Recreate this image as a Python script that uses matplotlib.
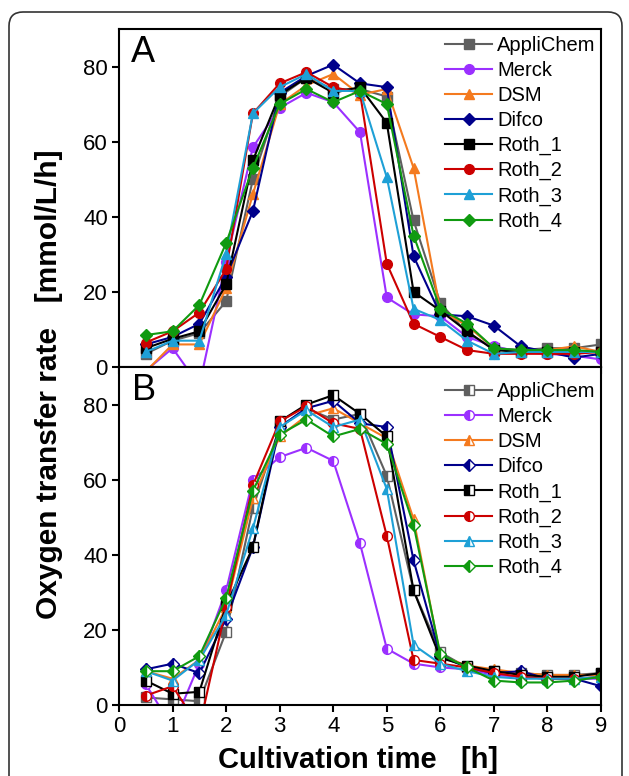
import matplotlib
matplotlib.use('Agg')
import matplotlib.pyplot as plt
from matplotlib.patches import FancyBboxPatch

plt.rcParams['font.family'] = ['Liberation Sans', 'DejaVu Sans']

# tiempo de cultivo [h]
tiempo = [0.5, 1, 1.5, 2, 2.5, 3, 3.5, 4, 4.5, 5, 5.5, 6, 6.5, 7, 7.5, 8, 8.5, 9]

nombres = ['AppliChem', 'Merck', 'DSM', 'Difco', 'Roth_1', 'Roth_2', 'Roth_3', 'Roth_4']
colores = ['#5f5f5f', '#9b30ff', '#f47a1f', '#00008b', '#000000', '#cc0000', '#1ea0d6', '#109a10']
marcadores = ['s', 'o', '^', 'D', 's', 'o', '^', 'D']

# panel A
a_applichem = [3.5, 7, 9, 17.5, 50, 72, 77, 74, 74, 72, 39, 17, 9, 5, 4.5, 5, 5, 6]
a_merck = [-1, 5, -5, 28, 58.5, 69, 73, 70.5, 62.5, 18.5, 14, 13.5, 8, 5.5, 4, 3.5, 3, 2]
a_dsm = [-1.2, 6, 6, 21, 46, 70, 75, 78, 72.5, 74, 53, 15, 11, 5, 4, 4.5, 5.5, 4]
a_difco = [6, 8, 11.5, 24, 41.5, 73, 77.5, 80.5, 75.5, 74.5, 29.5, 14, 13.5, 11, 5.5, 4, 2.5, 3.5]
a_roth1 = [5, 7.5, 9.5, 22, 55, 72.5, 77, 73, 74.5, 65, 20, 15, 9.5, 4.5, 4, 4, 4, 4]
a_roth2 = [6.5, 9.5, 14.5, 26, 67.5, 75.5, 78.5, 74.5, 73, 27.5, 11.5, 8, 4.5, 3.5, 3.5, 3.5, 3.5, 4]
a_roth3 = [4, 7, 7, 30, 67.5, 74.5, 78, 73.5, 73.5, 50.5, 15.5, 12.5, 7, 3.5, 4, 4, 4, 4]
a_roth4 = [8.5, 9.5, 16.5, 33, 53, 70, 74, 70.5, 73.5, 70, 35, 15.5, 11.5, 5, 4.5, 4.5, 4.5, 4]

# panel B
b_applichem = [2, 1.5, 1, 19.5, 52.5, 74, 79, 76, 77.5, 61, 30.5, 14, 10, 9, 8.5, 8, 8, 8.5]
b_merck = [5.5, -6, 11, 30.5, 60, 66, 68.5, 65, 43, 15, 11, 10, 9.5, 8, 7.5, 7, 7, 7]
b_dsm = [9, 7, 12, 26, 55, 71.5, 77, 79, 75, 71, 49.5, 13, 10.5, 9.5, 8.5, 8, 8, 8]
b_difco = [9.5, 11, 8.5, 23, 42, 74, 79, 81, 75, 74, 38.5, 13, 10, 8.5, 9, 7, 7, 5]
b_roth1 = [6.5, 3, 3.5, 26.5, 42, 75.5, 80, 82.5, 77.5, 71.5, 30.5, 12.5, 10.5, 9, 8, 7.5, 7.5, 8.5]
b_roth2 = [2.5, 5, -6, 26, 58.5, 75.5, 79.5, 75, 73.5, 45, 12, 11, 10, 8.5, 7.5, 7, 7, 7.5]
b_roth3 = [9, 6.5, 12, 24, 47, 74, 78.5, 74, 76, 57.5, 16, 11, 9, 7.5, 7, 7, 7, 7.5]
b_roth4 = [9, 9, 13, 28.5, 57, 72, 76, 71.5, 73.5, 69.5, 48, 13.5, 10, 6.5, 6, 6, 6.5, 7.5]

series_a = [a_applichem, a_merck, a_dsm, a_difco, a_roth1, a_roth2, a_roth3, a_roth4]
series_b = [b_applichem, b_merck, b_dsm, b_difco, b_roth1, b_roth2, b_roth3, b_roth4]

fig = plt.figure(figsize=(6.29, 7.76), dpi=100)

# marco redondeado
marco = FancyBboxPatch((0.09, -0.5), 6.13, 8.14, boxstyle='round,pad=0,rounding_size=0.14',
                       transform=fig.dpi_scale_trans, fill=False, edgecolor='#333333',
                       linewidth=1.2)
fig.patches.append(marco)

ax_a = fig.add_axes([0.1892, 0.5271, 0.7663, 0.4356])
ax_b = fig.add_axes([0.1892, 0.0915, 0.7663, 0.4356])


def dibujar(ax, datos, medio):
    for y, nombre, c, m in zip(datos, nombres, colores, marcadores):
        ms = 6.5 if m == 'D' else 7
        if medio:
            ax.plot(tiempo, y, color=c, marker=m, markersize=ms, linewidth=1.5,
                    fillstyle='left', markerfacecolor=c, markerfacecoloralt='white',
                    markeredgecolor=c, markeredgewidth=1.0, label=nombre)
        else:
            ax.plot(tiempo, y, color=c, marker=m, markersize=ms, linewidth=1.5,
                    markeredgecolor=c, label=nombre)
    ax.set_xlim(0, 9)
    ax.set_ylim(0, 90)
    ax.set_xticks(range(0, 10))
    ax.set_yticks([0, 20, 40, 60, 80])
    ax.tick_params(direction='out', length=5, width=1.5, pad=3, labelsize=16)
    for s in ax.spines.values():
        s.set_linewidth(1.5)


dibujar(ax_a, series_a, False)
dibujar(ax_b, series_b, True)
ax_a.tick_params(labelbottom=False)

opciones_leyenda = dict(loc='upper left', frameon=False, fontsize=14.5, handlelength=2.35,
                        handletextpad=0.25, labelspacing=0.3, borderpad=0, borderaxespad=0)
ax_a.legend(bbox_to_anchor=(0.676, 0.98), **opciones_leyenda)
ax_b.legend(bbox_to_anchor=(0.676, 0.955), **opciones_leyenda)

ax_a.text(0.025, 0.93, 'A', transform=ax_a.transAxes, fontsize=26, va='center', ha='left')
ax_b.text(0.027, 0.93, 'B', transform=ax_b.transAxes, fontsize=26, va='center', ha='left')

fig.text(0.078, 1 - 384 / 776, 'Oxygen transfer rate   [mmol/L/h]', rotation=90,
         fontsize=21.5, fontweight='bold', ha='center', va='center')
fig.text(358 / 629, 1 - 760 / 776, 'Cultivation time   [h]', fontsize=21, fontweight='bold',
         ha='center', va='center')

fig.savefig('out.png', dpi=100)
